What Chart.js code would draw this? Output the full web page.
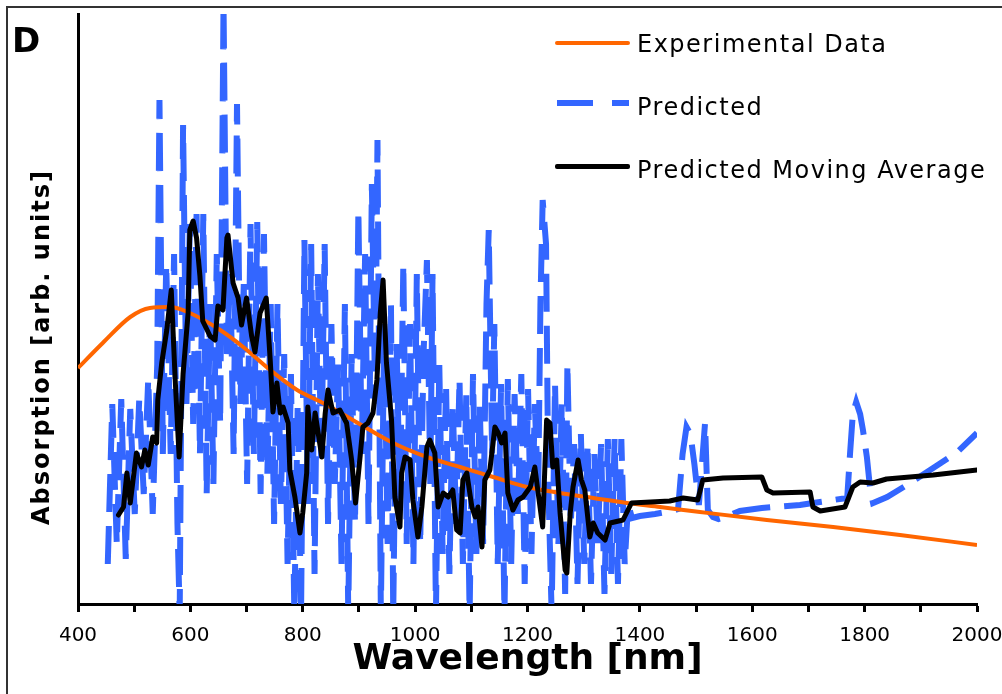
<!DOCTYPE html>
<html>
<head>
<meta charset="utf-8">
<script src="https://cdn.jsdelivr.net/npm/chart.js@4/dist/chart.umd.min.js"></script>
<style>
  html, body { margin: 0; padding: 0; background: #fff; }
  #wrap { position: relative; width: 1002px; height: 694px; overflow: hidden; font-family: 'DejaVu Sans', Verdana, sans-serif; }
  #frame { position: absolute; left: 6px; top: 6px; width: 1100px; height: 800px; border: 2px solid #333; }
  #panel { position: absolute; left: 12px; top: 23px; font: bold 34px/34px 'DejaVu Sans', sans-serif; color: #000; }
  #ytitle { position: absolute; left: 41px; top: 347px; transform: translate(-50%, -50%) rotate(-90deg); white-space: nowrap; font: bold 24px 'DejaVu Sans', sans-serif; letter-spacing: 2px; color: #000; }
  .lg-row { position: absolute; left: 555px; height: 30px; width: 440px; }
  .lg-text { position: absolute; left: 82px; top: 0; font: 24px/30px 'DejaVu Sans', sans-serif; letter-spacing: 1.5px; color: #000; white-space: nowrap; }
  .lg-seg { position: absolute; }
</style>
</head>
<body>
<div id="wrap">
  <canvas id="absorb" width="1002" height="694"></canvas>
  <div id="frame"></div>
  <div id="panel">D</div>
  <div id="ytitle">Absorption [arb. units]</div>
  <div id="legend"></div>
</div>
<script>
// experimental spectrum
const expWavelength = [400, 444, 493, 528, 564, 599, 653, 694, 742, 790, 836, 889, 961, 1021, 1080, 1139, 1199, 1258, 1317, 1377, 1436, 1507, 1626, 1744, 1863, 2000];
const expAbsorption = [236, 261, 287, 296, 297, 291, 274, 257, 234, 214, 201, 184, 161, 147, 137, 127, 117, 111, 106, 101, 97, 92, 84, 77, 69, 59];

// predicted spectrum (noisy)
const predWavelength = [
  453, 461, 469, 477, 485, 493, 501, 509,
  517, 525, 533, 541, 545, 551, 557,
  565, 571, 577, 581, 587,
  593, 599, 605, 611, 617,
  623, 629, 635, 641, 647, 653,
  659, 665, 671, 677, 683, 689,
  695, 701, 707, 713, 719, 725,
  731, 737, 743, 749, 755, 761, 767, 773, 779, 785, 791, 797,
  803, 809, 815, 821, 827, 833, 839, 845,
  851, 857, 863, 869, 875, 881, 887, 893,
  899, 905, 911, 917, 923, 929, 933, 939, 945, 951, 957, 961, 967,
  973, 979, 985, 991, 997, 1003, 1009, 1015, 1021, 1027, 1031, 1037, 1043,
  1049, 1055, 1061, 1067, 1073, 1079, 1085, 1091, 1097, 1103, 1109, 1115, 1121,
  1127, 1131, 1137, 1141, 1147,
  1153, 1159, 1165, 1171, 1177, 1183, 1189, 1195, 1201, 1207, 1213, 1219,
  1223, 1227, 1233, 1237, 1243,
  1249, 1255, 1261, 1267, 1271, 1277, 1283, 1289, 1295,
  1301, 1307, 1313, 1319, 1325, 1331, 1337, 1343, 1349, 1355, 1361, 1367, 1373, 1379,
  1386, 1400, 1427, 1457, 1468, 1476, 1483, 1490, 1497, 1505, 1516, 1521, 1530, 1540, 1552, 1578, 1617, 1685, 1708, 1744, 1769,
  1774, 1779, 1785, 1792, 1797, 1804, 1810, 1815, 1840, 1881, 1922, 1965, 2000
];
const predAbsorption = [
  40, 200, 60, 205, 45, 195, 90, 205,
  110, 225, 90, 240, 504, 150, 340,
  150, 350, 80, -10, 479,
  200, 380, 180, 390, 150,
  390, 110, 300, 120, 350, 180,
  600, 250, 330, 150, 500, 200,
  320, 120, 380, 150, 382, 110,
  370, 130, 300, 80, 300, 100, 250, 40, 230, -10, 200, -10,
  364, 100, 360, 30, 330, 140, 360, 80,
  280, 120, 240, 40, 300, -10, 250, 80,
  394, 150, 350, 80, 420, 200, 464, -10, 280, 60, 300, -10, 260,
  100, 340, 60, 280, 40, 330, 60, 250, 344, 120, 330, -10, 240,
  50, 220, 30, 200, 80, 225, 40, 210, -10, 230, 50, 200, 60,
  300, 374, 150, 280, 40,
  220, -10, 225, 40, 210, 90, 230, 20, 215, 50, 200, 110,
  300, 404, 360, 120, -10,
  220, 60, 200, 10, 240, 80, 160, 20, 170,
  40, 160, 20, 150, 60, 160, 10, 165, 30, 165, 20, 165, 40, 100,
  86, 88, 90, 93, 95, 150, 177, 170, 140, 99, 181, 94, 87, 85, 87, 93, 96, 99, 101, 104, 106,
  150, 190, 202, 190, 174, 147, 114, 101, 107, 121, 136, 152, 171
];

// moving average of the prediction
const avgWavelength = [
  472, 481, 487, 493, 498, 504, 513, 519, 525, 533, 540, 542, 549, 558, 566, 573, 580, 587, 596, 599,
  605, 611, 617, 622, 635, 644, 649, 658, 665, 667, 676, 685, 691, 700, 709, 715, 724, 735, 742, 747,
  754, 760, 765, 774, 777, 786, 795, 800, 807, 809, 816, 822, 834, 840, 845, 854, 866, 878, 887, 894,
  902, 907, 916, 925, 932, 938, 943, 949, 958, 964, 973, 976, 982, 991, 996, 1005, 1012, 1021, 1026, 1035,
  1041, 1050, 1059, 1067, 1074, 1080, 1085, 1092, 1101, 1107, 1112, 1119, 1124, 1133, 1142, 1148, 1154, 1160, 1165, 1174,
  1183, 1192, 1205, 1213, 1219, 1227, 1234, 1240, 1245, 1252, 1258, 1267, 1270, 1276, 1281, 1290, 1296, 1302, 1311, 1317,
  1325, 1338, 1347, 1370, 1385, 1453, 1477, 1503, 1512, 1548, 1617, 1626, 1637, 1703, 1708, 1721, 1765, 1779, 1792, 1815,
  1839, 1922, 2000
];
const avgAbsorption = [
  89, 97, 131, 101, 124, 151, 137, 154, 139, 167, 161, 204, 241, 274, 314, 224, 147, 230, 291, 374,
  383, 366, 328, 283, 268, 264, 298, 294, 366, 369, 321, 306, 279, 306, 268, 252, 291, 306, 245, 192,
  221, 191, 197, 181, 134, 107, 71, 91, 131, 197, 154, 191, 147, 191, 214, 191, 194, 181, 144, 101,
  147, 177, 181, 191, 224, 291, 324, 241, 184, 107, 77, 131, 147, 144, 104, 67, 97, 157, 164, 151,
  97, 111, 107, 114, 74, 71, 124, 131, 97, 87, 97, 57, 124, 134, 177, 171, 161, 171, 111, 94,
  104, 107, 117, 137, 111, 77, 184, 181, 137, 144, 91, 34, 31, 91, 117, 144, 124, 114, 67, 81,
  71, 64, 81, 84, 101, 103, 106, 104, 124, 126, 127, 114, 111, 112, 97, 93, 97, 117, 122, 121,
  125, 129, 134
];

const xTicks = [400, 600, 800, 1000, 1200, 1400, 1600, 1800, 2000];

const toPoints = (xs, ys) => xs.map((x, i) => ({x: x, y: ys[i]}));

const datasets = [
  {
    label: 'Experimental Data',
    data: toPoints(expWavelength, expAbsorption),
    borderColor: '#ff6600',
    borderWidth: 4,
    cubicInterpolationMode: 'monotone',
    order: 2
  },
  {
    label: 'Predicted',
    data: toPoints(predWavelength, predAbsorption),
    borderColor: '#3366ff',
    borderWidth: 6,
    borderDash: [38, 14],
    borderCapStyle: 'butt',
    order: 3
  },
  {
    label: 'Predicted Moving Average',
    data: toPoints(avgWavelength, avgAbsorption),
    borderColor: '#000000',
    borderWidth: 5,
    borderJoinStyle: 'round',
    borderCapStyle: 'round',
    tension: 0,
    order: 1
  }
];

let ctx = document.getElementById('absorb').getContext('2d');
let chart = new Chart(ctx, {
  type: 'line',
  data: {datasets: datasets},
  options: {
    responsive: false,
    animation: false,
    devicePixelRatio: 1,
    layout: {padding: {top: 14, right: 25, left: 0, bottom: 0}},
    elements: {point: {radius: 0}, line: {fill: false}},
    plugins: {legend: {display: false}, tooltip: {enabled: false}},
    scales: {
      x: {
        type: 'linear',
        min: 400,
        max: 2000,
        afterFit: s => { s.height = 90; s.paddingLeft = 0; s.paddingRight = 0; },
        border: {display: true, color: '#000', width: 3},
        grid: {display: true, drawOnChartArea: false, drawTicks: true, tickLength: 8, tickWidth: 3, tickColor: '#000'},
        ticks: {
          stepSize: 100,
          autoSkip: false,
          maxRotation: 0,
          padding: 12,
          color: '#000',
          font: {family: 'DejaVu Sans', size: 20},
          callback: v => xTicks.includes(v) ? String(v) : ''
        },
        title: {
          display: true,
          text: 'Wavelength [nm]',
          color: '#000',
          font: {family: 'DejaVu Sans', size: 36, weight: 'bold'},
          padding: {top: 0, bottom: 13}
        }
      },
      y: {
        min: 0,
        max: 590,
        afterFit: s => { s.width = 78; },
        border: {display: true, color: '#000', width: 3},
        grid: {display: false},
        ticks: {display: false}
      }
    }
  }
});

// legend drawn as html next to the plot, built from the datasets
const legendRows = [
  {top: 28.7, line: 43},
  {top: 91.7, line: 103},
  {top: 154.7, line: 167}
];
let legend = document.getElementById('legend');
datasets.forEach((ds, i) => {
  let row = document.createElement('div');
  row.className = 'lg-row';
  row.style.top = legendRows[i].top + 'px';
  let off = legendRows[i].line - legendRows[i].top;
  let segs = ds.borderDash ? [[2, 36], [57, 17]] : [[0, 75]];
  segs.forEach(sg => {
    let s = document.createElement('div');
    s.className = 'lg-seg';
    s.style.left = sg[0] + 'px';
    s.style.width = sg[1] + 'px';
    s.style.height = ds.borderWidth + 'px';
    s.style.top = (off - ds.borderWidth / 2) + 'px';
    s.style.background = ds.borderColor;
    if (!ds.borderDash) s.style.borderRadius = '2px';
    row.appendChild(s);
  });
  let t = document.createElement('div');
  t.className = 'lg-text';
  t.textContent = ds.label;
  row.appendChild(t);
  legend.appendChild(row);
});
</script>
</body>
</html>
